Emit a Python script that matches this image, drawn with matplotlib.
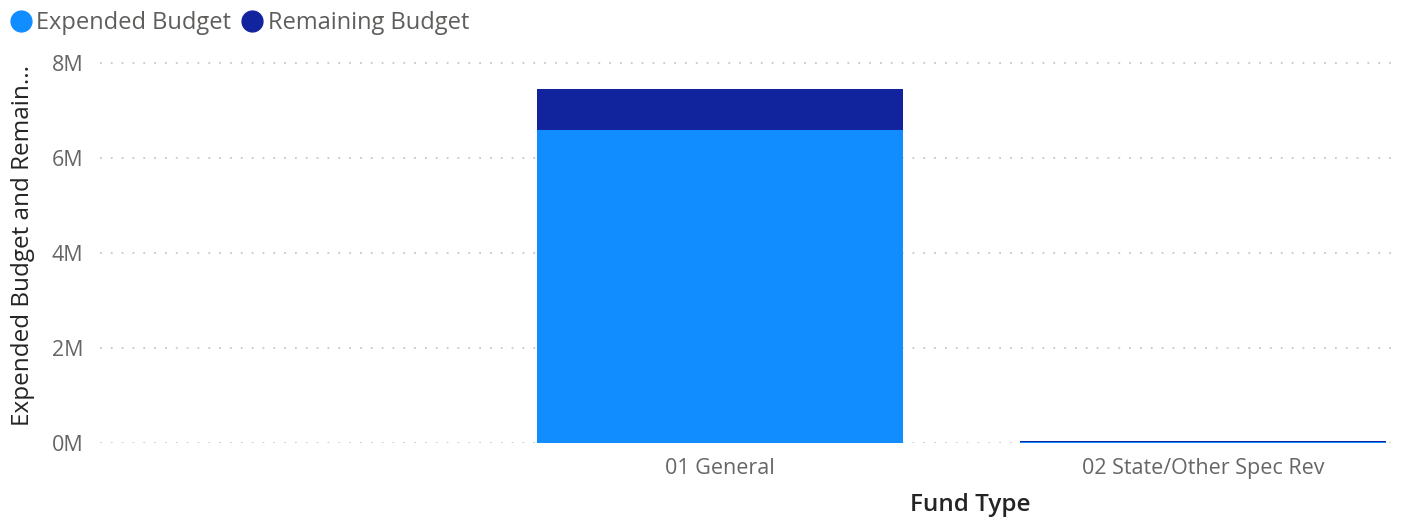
import matplotlib
matplotlib.use("Agg")
import matplotlib.pyplot as plt
from matplotlib.lines import Line2D
from matplotlib.ticker import FuncFormatter

categories = ["01 General", "02 State/Other Spec Rev"]
expended = [6.59e6, 0.02e6]
remaining = [0.86e6, 0.02e6]
yticks = [0, 2e6, 4e6, 6e6, 8e6]

plt.rcParams["font.family"] = ["Open Sans", "DejaVu Sans"]

fig = plt.figure(figsize=(14.08, 5.18), dpi=100)
ax = fig.add_axes([0.071, 0.1448, 0.923, 0.7492])

c_exp = "#118DFF"
c_rem = "#12239E"
x = list(range(len(categories)))
ax.bar(x, expended, width=0.757, color=c_exp, zorder=3)
ax.bar(x, remaining, width=0.757, bottom=expended, color=c_rem, zorder=3)

ax.set_xlim(-1.282, 1.406)
ax.set_ylim(0, 8.17e6)
ax.set_yticks(yticks)
ax.yaxis.set_major_formatter(FuncFormatter(lambda v, p: f"{v/1e6:.0f}M"))
ax.set_xticks(x)
ax.set_xticklabels(categories)

for s in ax.spines.values():
    s.set_visible(False)
ax.tick_params(axis="both", length=0, colors="#666666", labelsize=15.5)
ax.tick_params(axis="x", pad=11)
ax.tick_params(axis="y", pad=12)
ax.grid(axis="y", linestyle=(0, (1, 5)), color="#c8c8c8", linewidth=1.3, zorder=0)

ax.set_xlabel("Fund Type", fontsize=17.5, color="#252423", fontweight="semibold")
ax.set_ylabel("Expended Budget and Remain...", fontsize=17.5, color="#252423")
ax.yaxis.set_label_coords(-0.05, 0.51)
ax.xaxis.set_label_coords((971 - 100) / 1300, -0.128)

handles = [
    Line2D([], [], marker="o", linestyle="none", markersize=15, color=c_exp),
    Line2D([], [], marker="o", linestyle="none", markersize=15, color=c_rem),
]
fig.legend(handles, ["Expended Budget", "Remaining Budget"], loc="upper left",
           bbox_to_anchor=(-0.007, 1.01), ncol=2, frameon=False, fontsize=17,
           handletextpad=0.05, columnspacing=0.3, labelcolor="#605E5C",
           handlelength=1.2, borderaxespad=0.3)

fig.savefig("out.png", dpi=100, facecolor="white")
